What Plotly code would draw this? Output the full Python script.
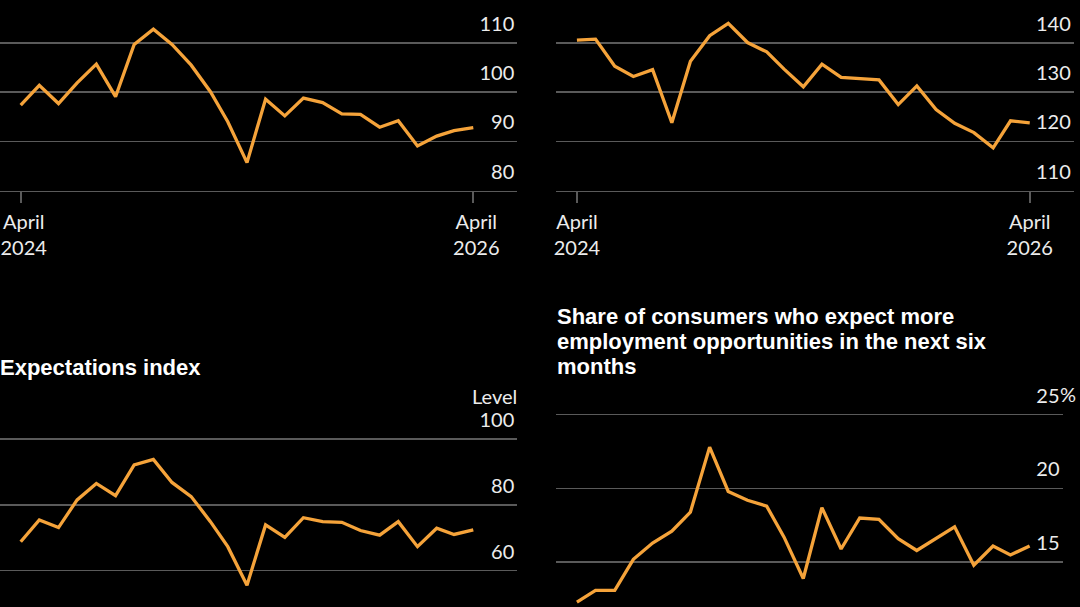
import pandas as pd
import plotly.graph_objects as go

# ---------------- data ----------------
months = pd.date_range("2024-04-01", "2026-04-01", freq="MS")
confidence = [97.4, 101.4, 97.7, 101.9, 105.7, 99.1, 109.7, 112.8, 109.7, 105.5, 100.1, 94.0,
              85.7, 98.6, 95.2, 98.8, 97.9, 95.6, 95.5, 92.9, 94.2, 89.1, 91.1, 92.2, 92.8]
present = [140.6, 140.8, 135.3, 133.2, 134.6, 123.8, 136.3, 141.5, 144.0, 140.1, 138.2, 134.7,
           131.1, 135.7, 133.0, 132.8, 132.5, 127.5, 131.3, 126.5, 123.7, 121.8, 118.7, 124.2, 123.8]
expectations = [68.8, 75.4, 73.1, 81.5, 86.5, 82.8, 92.1, 93.8, 86.8, 82.5, 74.9, 67.3,
                55.6, 73.9, 70.1, 76.1, 74.9, 74.7, 72.2, 70.8, 74.9, 67.3, 72.9, 71.0, 72.4]
jobs_share = [12.3, 13.1, 13.1, 15.2, 16.3, 17.1, 18.4, 22.8, 19.8, 19.2, 18.8, 16.7,
              13.9, 18.7, 15.9, 18.0, 17.9, 16.6, 15.8, 16.6, 17.4, 14.8, 16.1, 15.5, 16.1]

x_tickvals = ["2024-04-01", "2026-04-01"]
x_ticktext = ["April<br>2024", "April<br>2026"]
title_expect = "Expectations index"
title_jobs = ["Share of consumers who expect more",
              "employment opportunities in the next six",
              "months"]
y1_ticks = [80, 90, 100, 110]
y2_ticks = [110, 120, 130, 140]
y3_ticks = [60, 80, 100]
y4_ticks = [15, 20, 25]

# ---------------- style ----------------
W, H = 1080, 607
BG = "#000000"
LINE = "#F5A33A"
GRID = "#5a5a5a"
TXT = "#ececec"
FONT = "Lato"
TFONT = "Liberation Sans"

def px_x(p):
    return p / W

def px_y(p):
    return 1 - p / H

t0 = pd.Timestamp("2024-04-01")
t1 = pd.Timestamp("2026-04-01")
left_pad = pd.Timedelta(days=33.4)
right_pad = pd.Timedelta(days=71)
right_pad_br = pd.Timedelta(days=53)
xr = [t0 - left_pad, t1 + right_pad]
xr_br = [t0 - left_pad, t1 + right_pad_br]

fig = go.Figure()
for i, vals in enumerate([confidence, present, expectations, jobs_share]):
    sfx = "" if i == 0 else str(i + 1)
    fig.add_trace(go.Scatter(x=months, y=vals, mode="lines",
                             line=dict(color=LINE, width=3.3),
                             xaxis="x" + sfx, yaxis="y" + sfx,
                             hoverinfo="skip", showlegend=False))

tickfont = dict(family=FONT, size=20, color=TXT)

def xaxis(domain, rng, anchor, show, shift=0):
    d = dict(domain=domain, range=rng, type="date", anchor=anchor, automargin=False,
             showgrid=False, zeroline=False, fixedrange=True)
    if show:
        d.update(tickvals=x_tickvals, ticktext=x_ticktext, showline=True,
                 linecolor=GRID, linewidth=1.6, ticks="outside", ticklen=11,
                 tickwidth=1.6, tickcolor=GRID, tickfont=tickfont,
                 ticklabelstandoff=2, ticklabelshift=shift, ticklabeloverflow="allow")
    else:
        d.update(showticklabels=False, showline=False, ticks="")
    return d

def yaxis(domain, rng, anchor, ticks):
    return dict(domain=domain, range=rng, anchor=anchor, side="right", automargin=False,
                tickvals=ticks, ticktext=[str(t) for t in ticks],
                ticklabelposition="inside top", ticklabeloverflow="allow",
                ticklabelshift=-5,
                showgrid=True, gridcolor=GRID, gridwidth=1.6,
                zeroline=False, showline=False, ticks="",
                tickfont=tickfont, fixedrange=True)

L = [px_x(0), px_x(517.3)]
R = [px_x(556.2), px_x(1073.8)]
RB = [px_x(556.2), px_x(1062.5)]
TOP = [px_y(190.7), 1.0]
BOT = [0.0, px_y(395)]

fig.update_layout(
    width=W, height=H,
    margin=dict(l=0, r=0, t=0, b=0, autoexpand=False),
    paper_bgcolor=BG, plot_bgcolor=BG,
    xaxis=xaxis(L, xr, "y", True, shift=3),
    yaxis=yaxis(TOP, [80, 118.74], "x", y1_ticks),
    xaxis2=xaxis(R, xr, "y2", True),
    yaxis2=yaxis(TOP, [110, 148.74], "x2", y2_ticks),
    xaxis3=xaxis(L, xr, "y3", False),
    yaxis3=yaxis(BOT, [48.97, 113.36], "x3", y3_ticks),
    xaxis4=xaxis(RB, xr_br, "y4", False),
    yaxis4=yaxis(BOT, [11.97, 26.33], "x4", y4_ticks),
)

title_font = dict(family=TFONT, size=22, color="#ffffff", weight="bold")
ann = []
# baseline -> box bottom = baseline + descent (0.212 em)
ann.append(dict(text=title_expect, x=px_x(-1.5), y=px_y(376 + 4.7), xref="paper", yref="paper",
                xanchor="left", yanchor="bottom", borderpad=0, showarrow=False, font=title_font))
for line, base in zip(title_jobs, [325, 350, 375]):
    ann.append(dict(text=line, x=px_x(555.5), y=px_y(base + 4.7), xref="paper", yref="paper",
                    xanchor="left", yanchor="bottom", borderpad=0, showarrow=False, font=title_font))
ann.append(dict(text="Level", x=px_x(518.5), y=100, xref="paper", yref="y3",
                xanchor="right", yanchor="bottom", yshift=29.4, showarrow=False, font=tickfont))
ann.append(dict(text="%", x=px_x(1057.5), y=25, xref="paper", yref="y4",
                xanchor="left", yanchor="bottom", yshift=6.2, showarrow=False, font=tickfont))
fig.update_layout(annotations=ann)

fig.write_html("out.html",
               config={"displayModeBar": False, "staticPlot": True},
               post_script="document.body.style.margin='0';document.body.style.padding='0';"
                           "document.documentElement.style.overflow='hidden';")
